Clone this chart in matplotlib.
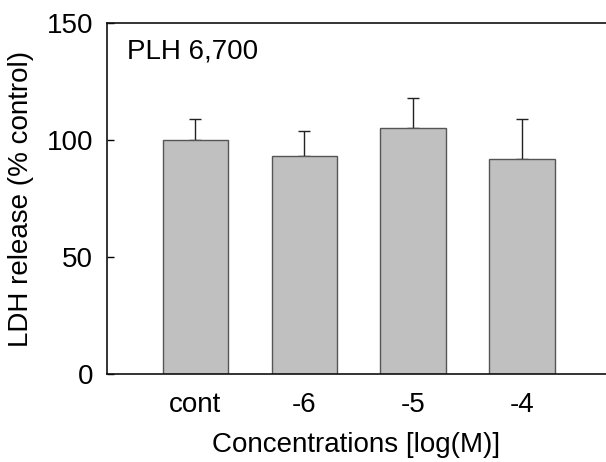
import matplotlib
matplotlib.use("Agg")
import matplotlib.pyplot as plt
import numpy as np

categories = ["cont", "-6", "-5", "-4"]
values = [100, 93, 105, 92]
errors = [9, 11, 13, 17]

plt.rcParams["font.family"] = ["Liberation Sans", "DejaVu Sans"]

fig = plt.figure(figsize=(6.06, 4.62), dpi=100)
ax = fig.add_axes([107 / 606, 88 / 462, 1 - 107 / 606, (374 - 23) / 462])

x = np.arange(len(categories))
ax.bar(x, values, width=0.6, color="#c0c0c0", edgecolor="#555555", linewidth=1.0, zorder=2)
ax.errorbar(x, values, yerr=[np.zeros(len(errors)), errors], fmt="none",
            ecolor="#222222", elinewidth=1.0, capsize=4, capthick=1.0, zorder=1)

ax.set_xlim(-0.81, 3.77)
ax.set_ylim(0, 150)
ax.set_yticks([0, 50, 100, 150])
ax.set_xticks(x)
ax.set_xticklabels(categories)
ax.tick_params(axis="y", direction="in", length=5, width=1, labelsize=20, pad=10)
ax.tick_params(axis="x", length=0, labelsize=20, pad=13)
ax.spines["right"].set_visible(False)
for s in ("left", "top", "bottom"):
    ax.spines[s].set_linewidth(1.2)
    ax.spines[s].set_color("#111111")

ax.set_xlabel("Concentrations [log(M)]", fontsize=20, labelpad=10)
ax.set_ylabel("LDH release (% control)", fontsize=20, labelpad=9)
ax.text(0.04, 0.92, "PLH 6,700", transform=ax.transAxes, fontsize=20, va="center", ha="left")

fig.savefig("out.png", dpi=100)
